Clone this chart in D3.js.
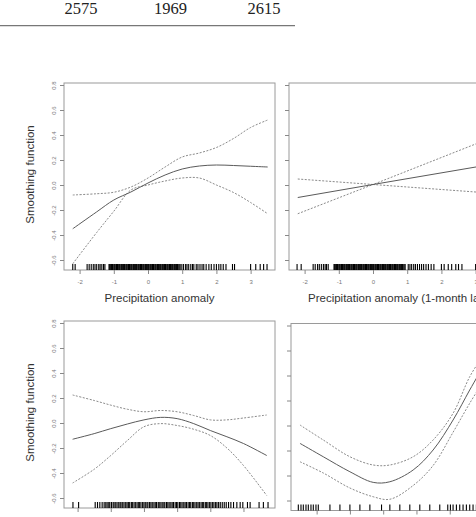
<!DOCTYPE html>
<html>
<head>
<meta charset="utf-8">
<script src="https://cdn.jsdelivr.net/npm/d3@7"></script>
<style>
  body { margin: 0; background: #fff; }
  svg { display: block; }
</style>
</head>
<body>
<div id="chart"></div>
<script>
// table row above the figure
const tableValues = ["2575", "1969", "2615"];

// tick values
const yTicks = [-0.6, -0.4, -0.2, 0.0, 0.2, 0.4, 0.6, 0.8];
const precipTicks = [-2, -1, 0, 1, 2, 3];
const lowerLeftTicks = [-2, -1, 0, 1, 2, 3];
const lowerRightTicks = [2, 3, 4, 5, 6, 7];

// panel 1: precipitation anomaly
const precipX = [-2.2, -1.5, -1, -0.5, 0, 0.5, 1, 1.5, 2, 2.5, 3, 3.5];
const precipFit = [-0.35, -0.215, -0.12, -0.056, 0.016, 0.08, 0.128, 0.152, 0.16, 0.156, 0.15, 0.144];
const precipUpper = [-0.08, -0.07, -0.058, -0.016, 0.056, 0.144, 0.224, 0.256, 0.3, 0.372, 0.46, 0.52];
const precipLower = [-0.63, -0.38, -0.21, -0.04, 0.0, 0.032, 0.056, 0.056, 0.0, -0.06, -0.14, -0.23];

// panel 2: precipitation anomaly, 1-month lag (linear term)
const lagX = [-2.2, 0, 3.5];
const lagFit = [-0.1, 0.004, 0.167];
const lagUpper = [0.048, 0.004, 0.382];
const lagLower = [-0.23, 0.004, -0.066];

// panel 3
const llX = [-2.15, -1.5, -1, -0.5, 0, 0.5, 1, 1.5, 2, 2.5, 3, 3.7];
const llFit = [-0.13, -0.085, -0.045, -0.008, 0.025, 0.045, 0.035, -0.005, -0.06, -0.11, -0.164, -0.26];
const llUpper = [0.224, 0.18, 0.143, 0.11, 0.09, 0.1, 0.09, 0.06, 0.025, 0.025, 0.04, 0.064];
const llLower = [-0.48, -0.37, -0.26, -0.14, -0.03, -0.005, -0.02, -0.05, -0.1, -0.2, -0.34, -0.58];

// panel 4
const lrX = [1.5, 2.2, 3.0, 3.7, 4.2, 4.9, 5.5, 6.1, 6.6, 7.0];
const lrFit = [-0.143, -0.25, -0.37, -0.455, -0.45, -0.356, -0.196, 0.044, 0.284, 0.47];
const lrUpper = [0.004, -0.116, -0.25, -0.316, -0.316, -0.25, -0.116, 0.098, 0.39, 0.56];
const lrLower = [-0.29, -0.38, -0.5, -0.57, -0.59, -0.48, -0.32, -0.054, 0.178, 0.35];

// rugs
const rugCore = [-1.14, -1.12, -1.09, -1.07, -1.04, -1.02, -0.99, -0.97, -0.94, -0.92, -0.89, -0.87,
  -0.84, -0.82, -0.79, -0.77, -0.74, -0.72, -0.69, -0.67, -0.64, -0.62, -0.59, -0.57, -0.54, -0.52,
  -0.49, -0.47, -0.44, -0.42, -0.39, -0.37, -0.34, -0.32, -0.29, -0.27, -0.24, -0.22, -0.19, -0.17,
  -0.14, -0.12, -0.09, -0.07, -0.04, -0.02, 0.01, 0.03, 0.06, 0.08, 0.11, 0.13, 0.16, 0.18, 0.21,
  0.23, 0.26, 0.28, 0.31, 0.33, 0.36, 0.38, 0.41, 0.43, 0.46, 0.48, 0.51, 0.53, 0.56, 0.58, 0.61,
  0.63, 0.66, 0.68, 0.71, 0.73, 0.76, 0.78, 0.81, 0.83, 0.86, 0.88, 0.91, 0.94];
const rugPrecipTails = [-2.2, -2.13, -1.78, -1.72, -1.66, -1.6, -1.55, -1.5, -1.44, -1.4, -1.35, -1.3,
  -1.26, 0.99, 1.04, 1.1, 1.14, 1.19, 1.25, 1.3, 1.34, 1.41, 1.46, 1.52, 1.58, 1.63, 1.7, 1.78, 1.85,
  1.93, 2.0, 2.07, 2.13, 2.2, 2.28, 2.47, 2.53, 3.0, 3.15, 3.28, 3.38, 3.48];
const rugLagTails = [-2.22, -2.1, -1.75, -1.69, -1.62, -1.57, -1.51, -1.45, -1.4, -1.36, -1.31,
  1.03, 1.08, 1.13, 1.19, 1.24, 1.3, 1.36, 1.42, 1.48, 1.55, 1.62, 1.7, 1.78, 2.0, 2.08, 2.2, 2.3,
  2.42, 2.5, 2.6, 3.0, 3.2, 3.4];
const rugLowerLeft = [-2.14, -1.97, -1.47, -1.4, -1.33, -1.26, -1.2, -1.15, -1.11, -1.06, -1.03, -0.98,
  -0.93, -0.9, -0.85, -0.81, -0.76, -0.72, -0.69, -0.64, -0.6, -0.55, -0.51, -0.47, -0.43, -0.38,
  -0.35, -0.3, -0.26, -0.21, -0.17, -0.13, -0.09, -0.04, 0.0, 0.04, 0.09, 0.12, 0.17, 0.21, 0.25,
  0.3, 0.34, 0.38, 0.43, 0.46, 0.51, 0.55, 0.6, 0.63, 0.68, 0.72, 0.76, 0.81, 0.85, 0.89, 0.94,
  0.98, 1.02, 1.07, 1.11, 1.15, 1.2, 1.24, 1.28, 1.33, 1.37, 1.41, 1.46, 1.5, 1.54, 1.59, 1.63,
  1.67, 1.72, 1.76, 1.8, 1.85, 1.89, 1.93, 1.98, 2.02, 2.07, 2.11, 2.16, 2.2, 2.25, 2.3, 2.36,
  2.42, 2.48, 2.55, 2.62, 2.7, 2.8, 2.9, 2.98, 3.12, 3.2, 3.47, 3.6, 3.74];
const rugLowerRight = [1.45, 1.53, 1.6, 1.68, 1.75, 1.83, 1.9, 1.98, 2.05, 2.4, 2.7, 3.0, 3.3, 3.6,
  3.95, 4.2, 4.5, 4.8, 5.1, 5.4, 5.7, 5.94, 6.02, 6.1, 6.2, 6.3, 6.4, 6.5, 6.6, 6.7, 6.8, 6.9, 7.0, 7.1];

const xLabel1 = "Precipitation anomaly";
const xLabel2 = "Precipitation anomaly (1-month lag)";
const yLabel = "Smoothing function";

const W = 476, H = 517;
const svg = d3.select("#chart").append("svg").attr("width", W).attr("height", H);

// table row
const tableX = [81, 170.5, 264];
svg.selectAll(".tv")
  .data(tableValues)
  .join("text")
  .attr("x", (d, i) => tableX[i])
  .attr("y", 13.5)
  .attr("text-anchor", "middle")
  .style("font-family", "Liberation Serif, Times New Roman, serif")
  .style("font-size", "16.5px")
  .style("fill", "#222")
  .text((d) => d);
svg.append("line")
  .attr("x1", 0).attr("x2", 295).attr("y1", 25.6).attr("y2", 25.6)
  .attr("stroke", "#777").attr("stroke-width", 1.4);

// bottom row tick labels fall below the picture's edge, so they are left out
const panels = [
  { left: 64, right: 275, top: 83, bottom: 270, xd: [-2.456, 3.713], xt: precipTicks,
    xs: precipX, fit: precipFit, up: precipUpper, lo: precipLower, rug: rugCore.concat(rugPrecipTails),
    yLabels: true, xLabels: true, curve: d3.curveCatmullRom },
  { left: 289, right: 500, top: 83, bottom: 270, xd: [-2.456, 3.713], xt: precipTicks,
    xs: lagX, fit: lagFit, up: lagUpper, lo: lagLower, rug: rugCore.concat(rugLagTails),
    yLabels: false, xLabels: true, curve: d3.curveLinear },
  { left: 64, right: 275, top: 321, bottom: 508, xd: [-2.41, 3.95], xt: lowerLeftTicks,
    xs: llX, fit: llFit, up: llUpper, lo: llLower, rug: rugLowerLeft,
    yLabels: true, xLabels: false, curve: d3.curveCatmullRom },
  { left: 291, right: 502, top: 323.5, bottom: 510.5, xd: [1.23, 7.57], xt: lowerRightTicks,
    xs: lrX, fit: lrFit, up: lrUpper, lo: lrLower, rug: rugLowerRight,
    yLabels: false, xLabels: false, curve: d3.curveCatmullRom }
];

const yDomain = [-0.68, 0.816];

panels.forEach((p) => {
  const x = d3.scaleLinear().domain(p.xd).range([p.left, p.right]);
  const y = d3.scaleLinear().domain(yDomain).range([p.bottom, p.top]);
  const g = svg.append("g");

  // box
  g.append("rect")
    .attr("x", p.left).attr("y", p.top)
    .attr("width", p.right - p.left).attr("height", p.bottom - p.top)
    .attr("fill", "none").attr("stroke", "#9a9a9a").attr("stroke-width", 1);

  // y axis
  const ya = g.append("g")
    .attr("transform", `translate(${p.left},0)`)
    .call(d3.axisLeft(y).tickValues(yTicks).tickSize(4).tickSizeOuter(0)
      .tickFormat((d) => (p.yLabels ? d.toFixed(1) : "")));
  ya.select(".domain").remove();
  ya.selectAll("line").attr("stroke", "#888");
  ya.selectAll("text")
    .attr("x", 0).attr("dy", 0)
    .attr("text-anchor", "middle")
    .attr("transform", "translate(-8,0) rotate(-90)")
    .style("font-family", "Liberation Sans, Arial, sans-serif")
    .style("font-size", "6px")
    .style("fill", "#777");

  // x axis
  const xa = g.append("g")
    .attr("transform", `translate(0,${p.bottom})`)
    .call(d3.axisBottom(x).tickValues(p.xt).tickSize(4).tickSizeOuter(0).tickPadding(6)
      .tickFormat((d) => (p.xLabels ? String(d) : "")));
  xa.select(".domain").remove();
  xa.selectAll("line").attr("stroke", "#888");
  xa.selectAll("text")
    .style("font-family", "Liberation Sans, Arial, sans-serif")
    .style("font-size", "6px")
    .style("fill", "#777");

  // rug
  g.append("g").selectAll("line")
    .data(p.rug)
    .join("line")
    .attr("x1", (d) => x(d)).attr("x2", (d) => x(d))
    .attr("y1", p.bottom).attr("y2", p.bottom - 6)
    .attr("stroke", "#000").attr("stroke-width", 1.1);

  const line = (vals) => d3.line()
    .x((d, i) => x(p.xs[i]))
    .y((d) => y(d))
    .curve(p.curve)(vals);

  g.append("path").attr("d", line(p.up))
    .attr("fill", "none").attr("stroke", "#8a8a8a").attr("stroke-width", 1)
    .attr("stroke-dasharray", "2,1.5");
  g.append("path").attr("d", line(p.lo))
    .attr("fill", "none").attr("stroke", "#8a8a8a").attr("stroke-width", 1)
    .attr("stroke-dasharray", "2,1.5");
  g.append("path").attr("d", line(p.fit))
    .attr("fill", "none").attr("stroke", "#5a5a5a").attr("stroke-width", 1);

  // y label
  if (p.yLabels) {
    const cy = (p.top + p.bottom) / 2 - 2;
    g.append("text")
      .attr("transform", `translate(34,${cy}) rotate(-90)`)
      .attr("text-anchor", "middle")
      .style("font-family", "Liberation Sans, Arial, sans-serif")
      .style("font-size", "11.5px")
      .style("fill", "#333")
      .text(yLabel);
  }
});

// x labels for the top row
svg.append("text")
  .attr("x", 159.5).attr("y", 302)
  .attr("text-anchor", "middle")
  .style("font-family", "Liberation Sans, Arial, sans-serif")
  .style("font-size", "11.5px")
  .style("fill", "#333")
  .text(xLabel1);
svg.append("text")
  .attr("x", 308).attr("y", 302)
  .attr("text-anchor", "start")
  .style("font-family", "Liberation Sans, Arial, sans-serif")
  .style("font-size", "11.5px")
  .style("fill", "#333")
  .text(xLabel2);
</script>
</body>
</html>
